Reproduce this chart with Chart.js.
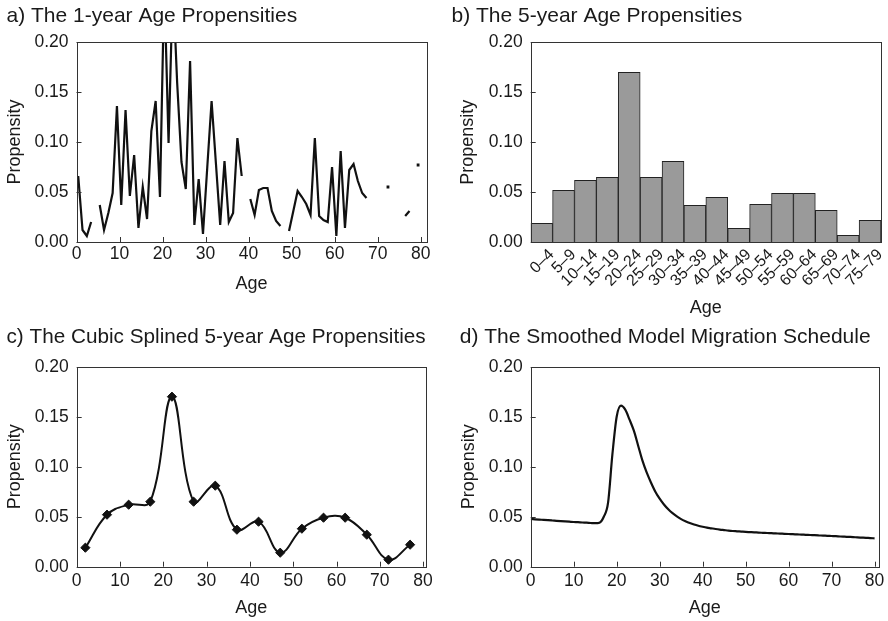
<!DOCTYPE html>
<html>
<head>
<meta charset="utf-8">
<title>Age Propensities and Model Migration Schedule</title>
<script src="https://cdn.jsdelivr.net/npm/chart.js@4.4.1/dist/chart.umd.min.js"></script>
<style>
  html, body { margin: 0; padding: 0; background: #ffffff; }
  #wrap { position: relative; width: 888px; height: 621px; overflow: hidden; }
  #wrap canvas { position: absolute; }
</style>
</head>
<body>
<div id="wrap">
  <canvas id="panelA" width="444" height="320" style="left:0;top:0"></canvas>
  <canvas id="panelB" width="444" height="320" style="left:444px;top:0"></canvas>
  <canvas id="panelC" width="444" height="301" style="left:0;top:320px"></canvas>
  <canvas id="panelD" width="444" height="301" style="left:444px;top:320px"></canvas>
</div>
<script>
// ---- data -------------------------------------------------------------

// single years of age 0..80 and their observed propensities (null = no value)
const singleAges = [
   0,  1,  2,  3,  4,  5,  6,  7,  8,  9,
  10, 11, 12, 13, 14, 15, 16, 17, 18, 19,
  20, 21, 22, 23, 24, 25, 26, 27, 28, 29,
  30, 31, 32, 33, 34, 35, 36, 37, 38, 39,
  40, 41, 42, 43, 44, 45, 46, 47, 48, 49,
  50, 51, 52, 53, 54, 55, 56, 57, 58, 59,
  60, 61, 62, 63, 64, 65, 66, 67, 68, 69,
  70, 71, 72, 73, 74, 75, 76, 77, 78, 79,
  80
];
const singlePropensity = [
  0.066, 0.012, 0.006, 0.020, null,  0.037, 0.012, 0.029, 0.049, 0.136,
  0.037, 0.132, 0.046, 0.087, 0.014, 0.055, 0.023, 0.111, 0.141, 0.045,
  0.260, 0.099, 0.260, 0.159, 0.080, 0.053, 0.181, 0.017, 0.063, 0.008,
  0.075, 0.141, 0.079, 0.017, 0.081, 0.020, 0.029, 0.104, 0.066, null,
  0.043, 0.027, 0.052, 0.054, 0.054, 0.031, 0.021, 0.016, null,  0.011,
  0.031, 0.051, 0.045, 0.038, 0.027, 0.104, 0.026, 0.022, 0.020, 0.075,
  0.006, 0.091, 0.014, 0.072, 0.078, 0.061, 0.049, 0.044, null,  null,
  null,  null,  0.055, null,  null,  null,  0.026, 0.031, null,  0.077,
  null
];

// five-year age groups
const groupLabels = [
  '0–4', '5–9', '10–14', '15–19', '20–24', '25–29', '30–34', '35–39',
  '40–44', '45–49', '50–54', '55–59', '60–64', '65–69', '70–74', '75–79'
];
const groupMidAges = [2, 7, 12, 17, 22, 27, 32, 37, 42, 47, 52, 57, 62, 67, 72, 77];
const groupPropensity = [
  0.019, 0.052, 0.062, 0.065, 0.170, 0.065, 0.081, 0.037,
  0.045, 0.014, 0.038, 0.049, 0.049, 0.032, 0.007, 0.022
];

// smoothed model migration schedule, ages 0..80
const modelSchedule = [
  0.0477, 0.0474, 0.0471, 0.0468, 0.0465, 0.0462, 0.0459, 0.0456, 0.0453, 0.0450,
  0.0447, 0.0445, 0.0442, 0.0440, 0.0437, 0.0435, 0.0440, 0.0500, 0.0640, 0.1120,
  0.1500, 0.1610, 0.1570, 0.1470, 0.1360, 0.1210, 0.1060, 0.0940, 0.0840, 0.0750,
  0.0680, 0.0622, 0.0574, 0.0535, 0.0503, 0.0476, 0.0455, 0.0437, 0.0422, 0.0410,
  0.0400, 0.0391, 0.0384, 0.0377, 0.0371, 0.0366, 0.0361, 0.0357, 0.0354, 0.0351,
  0.0348, 0.0346, 0.0344, 0.0341, 0.0339, 0.0337, 0.0335, 0.0333, 0.0331, 0.0329,
  0.0327, 0.0325, 0.0323, 0.0321, 0.0319, 0.0317, 0.0315, 0.0313, 0.0311, 0.0309,
  0.0307, 0.0305, 0.0302, 0.0300, 0.0298, 0.0296, 0.0293, 0.0291, 0.0289, 0.0286,
  0.0284
];

const panelTitles = [
  'a) The 1-year Age Propensities',
  'b) The 5-year Age Propensities',
  'c) The Cubic Splined 5-year Age Propensities',
  'd) The Smoothed Model Migration Schedule'
];

// ---- shared styling ---------------------------------------------------

const FONT = '"Liberation Sans", Arial, Helvetica, sans-serif';
const INK = '#1a1a1a';
const LINE = '#111111';

// frame round the plot area plus short tick marks pointing inwards
const frameTicks = {
  id: 'frameTicks',
  afterDatasetsDraw(chart, args, opts) {
    const { ctx, chartArea: a, scales } = chart;
    const len = opts.len || 5;
    ctx.save();
    ctx.strokeStyle = opts.color || '#333';
    ctx.lineWidth = 1;
    ctx.beginPath();
    if (opts.xTicks) {
      scales.x.ticks.forEach(t => {
        const px = Math.round(scales.x.getPixelForValue(t.value)) + 0.5;
        ctx.moveTo(px, a.bottom);
        ctx.lineTo(px, a.bottom - len);
      });
    }
    scales.y.ticks.forEach(t => {
      const py = Math.round(scales.y.getPixelForValue(t.value)) + 0.5;
      ctx.moveTo(a.left, py);
      ctx.lineTo(a.left + len, py);
    });
    ctx.stroke();
    ctx.strokeRect(Math.round(a.left) + 0.5, Math.round(a.top) + 0.5,
                   Math.round(a.right - a.left), Math.round(a.bottom - a.top));
    ctx.restore();
  }
};
Chart.register(frameTicks);

function chartTitle(text, padTop, padBottom) {
  return {
    display: true, text, align: 'start', color: INK,
    font: { family: FONT, size: 21, weight: 'normal' },
    padding: { top: padTop, bottom: padBottom }
  };
}

function propensityAxis(width, titlePad) {
  return {
    type: 'linear', min: 0, max: 0.2,
    grid: { display: false, drawTicks: false },
    border: { display: false },
    ticks: {
      stepSize: 0.05, padding: 8, color: INK,
      font: { family: FONT, size: 17.5 },
      callback: v => v.toFixed(2)
    },
    title: {
      display: true, text: 'Propensity', color: INK,
      font: { family: FONT, size: 18 },
      padding: { top: titlePad, bottom: 0 }
    },
    afterFit: s => { s.width = width; }
  };
}

function ageAxis(max, height, tickPad, titlePad) {
  return {
    type: 'linear', min: 0, max,
    grid: { display: false, drawTicks: false },
    border: { display: false },
    ticks: {
      stepSize: 10, includeBounds: false, padding: tickPad, color: INK,
      maxRotation: 0, font: { family: FONT, size: 17.5 }
    },
    title: {
      display: true, text: 'Age', color: INK,
      font: { family: FONT, size: 18 },
      padding: { top: 0, bottom: titlePad }
    },
    afterFit: s => { s.height = height; }
  };
}

function basePlugins(title, frameOpts) {
  return {
    legend: { display: false },
    tooltip: { enabled: false },
    title,
    frameTicks: frameOpts
  };
}

// ---- a) single-year propensities -------------------------------------

// a point is marked only when it stands alone between two gaps
function isolated(ctx) {
  const i = ctx.dataIndex;
  const v = singlePropensity;
  if (v[i] === null) return 0;
  const prevGap = i === 0 || v[i - 1] === null;
  const nextGap = i === v.length - 1 || v[i + 1] === null;
  return prevGap && nextGap ? 2 : 0;
}

new Chart(document.getElementById('panelA'), {
  type: 'line',
  data: {
    datasets: [{
      // each value sits near the middle of its year of age
      data: singleAges.map((age, i) => ({ x: age + 0.4, y: singlePropensity[i] })),
      borderColor: LINE, borderWidth: 2.2, tension: 0,
      spanGaps: false, clip: 0,
      pointStyle: 'rect', pointRadius: isolated,
      pointBackgroundColor: LINE, pointBorderWidth: 0, pointHoverRadius: 0
    }]
  },
  options: {
    responsive: false, animation: false, events: [],
    layout: { padding: { left: 6.5, right: 17.3, top: 0, bottom: 22 } },
    scales: {
      x: ageAxis(81.4, 56, 1.2, 3),
      y: propensityAxis(70, -2.7)
    },
    plugins: basePlugins(chartTitle(panelTitles[0], 3.4, 13.4), { xTicks: true, len: 5, color: '#333' })
  }
});

// ---- b) five-year propensities ---------------------------------------

new Chart(document.getElementById('panelB'), {
  type: 'bar',
  data: {
    labels: groupLabels,
    datasets: [{
      data: groupPropensity,
      backgroundColor: '#9a9a9a',
      borderColor: '#222222', borderWidth: 1,
      barPercentage: 1, categoryPercentage: 1
    }]
  },
  options: {
    responsive: false, animation: false, events: [],
    layout: { padding: { left: 7.5, right: 7, top: 0, bottom: 1.2 } },
    scales: {
      x: {
        type: 'category',
        grid: { display: false, drawTicks: false },
        border: { display: false },
        ticks: {
          minRotation: 45, maxRotation: 45, autoSkip: false,
          padding: 3, labelOffset: 10, color: INK,
          font: { family: FONT, size: 16 }
        },
        title: {
          display: true, text: 'Age', color: INK,
          font: { family: FONT, size: 18 },
          padding: { top: 0, bottom: 0 }
        },
        afterFit: s => { s.height = 76.5; }
      },
      y: propensityAxis(79.2, 6)
    },
    plugins: basePlugins(chartTitle(panelTitles[1], 3.4, 13.7), { xTicks: false, len: 5, color: '#333' })
  }
});

// ---- c) cubic splined five-year propensities --------------------------

new Chart(document.getElementById('panelC'), {
  type: 'line',
  data: {
    datasets: [{
      data: groupMidAges.map((age, i) => ({ x: age, y: groupPropensity[i] })),
      borderColor: LINE, borderWidth: 2, tension: 0.4,
      pointStyle: 'rectRot', pointRadius: 4.6, pointHoverRadius: 4.6,
      pointBackgroundColor: LINE, pointBorderColor: LINE, pointBorderWidth: 1
    }]
  },
  options: {
    responsive: false, animation: false, events: [],
    layout: { padding: { left: 6.5, right: 18.3, top: 0, bottom: 2.3 } },
    scales: {
      x: ageAxis(80.6, 52, 3.6, 0),
      y: propensityAxis(70.2, -2.3)
    },
    plugins: basePlugins(chartTitle(panelTitles[2], 5.1, 16.4), { xTicks: true, len: 5, color: '#333' })
  }
});

// ---- d) smoothed model schedule ---------------------------------------

new Chart(document.getElementById('panelD'), {
  type: 'line',
  data: {
    datasets: [{
      data: singleAges.map((age, i) => ({ x: age, y: modelSchedule[i] })),
      borderColor: LINE, borderWidth: 2.2,
      cubicInterpolationMode: 'monotone',
      pointRadius: 0, pointHoverRadius: 0
    }]
  },
  options: {
    responsive: false, animation: false, events: [],
    layout: { padding: { left: 15.7, right: 8, top: 0, bottom: 2.3 } },
    scales: {
      x: ageAxis(81, 52, 3.6, 0),
      y: propensityAxis(71, -1.5)
    },
    plugins: basePlugins(chartTitle(panelTitles[3], 5.1, 16.4), { xTicks: true, len: 5, color: '#333' })
  }
});
</script>
</body>
</html>
